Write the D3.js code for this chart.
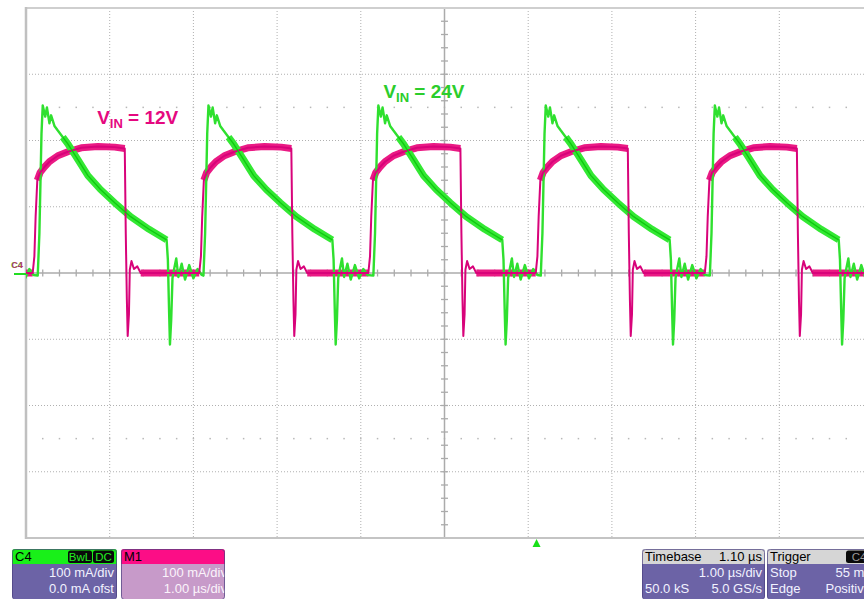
<!DOCTYPE html>
<html>
<head>
<meta charset="utf-8">
<script src="https://cdn.jsdelivr.net/npm/d3@7"></script>
<style>
  html, body { margin: 0; padding: 0; background: #fff; }
  svg { display: block; font-family: "Liberation Sans", Arial, sans-serif; }
</style>
</head>
<body>
<svg id="scope" width="864" height="599"></svg>
<script>
// ---- Graticule: 10 time divisions (1.00 µs/div), 8 current divisions (100 mA/div)
const timeDomain = [0, 10];        // µs
const currentDomain = [-400, 400]; // mA

// ---- C4 (VIN = 24V): one switching cycle, [µs after turn-on, mA]
const c4Shape = [
  [0.00, -4], [0.02, 60], [0.035, 150], [0.045, 210], [0.06, 253], [0.09, 236],
  [0.11, 250], [0.14, 226], [0.16, 238], [0.20, 222], [0.24, 215], [0.30, 205],
  [0.36, 195], [0.48, 171], [0.60, 147], [0.75, 126], [0.92, 106], [1.11, 85],
  [1.33, 66], [1.54, 50], [1.555, 20], [1.57, -60], [1.58, -108], [1.595, -70],
  [1.61, -8], [1.63, 6], [1.655, 22], [1.68, -6], [1.72, 14], [1.76, -10],
  [1.81, 12], [1.86, -8], [1.91, 6], [1.96, -3]
];
const c4Starts = [-1.87, 0.14, 2.12, 4.15, 6.15, 8.17]; // µs
const c4BandRanges = [[0.26, 1.545]];

// ---- M1 (VIN = 12V): one switching cycle, [µs after turn-on, mA]
const m1Shape = [
  [0.00, 0], [0.02, 25], [0.035, 85], [0.055, 140], [0.09, 152], [0.14, 160],
  [0.20, 168], [0.30, 177], [0.42, 183], [0.58, 189], [0.78, 191], [0.98, 190],
  [1.10, 188], [1.112, 60], [1.125, -40], [1.135, -95], [1.15, -62], [1.16, 5],
  [1.18, 18], [1.21, 6], [1.25, 10], [1.29, 0], [1.96, 0]
];
const m1Starts = [-1.93, 0.08, 2.07, 4.09, 6.09, 8.11]; // µs
const m1BandRanges = [[0.055, 1.102], [1.29, 1.96], [0, 0]];

// ---- Readout panels
const c4Readout = ["100 mA/div", "0.0 mA ofst"];
const m1Readout = ["100 mA/div", "1.00 µs/div"];
const timebaseReadout = { delay: "1.10 µs", perDiv: "1.00 µs/div", samples: "50.0 kS", rate: "5.0 GS/s" };
const triggerReadout = { source: "C4", mode: "Stop", level: "55 mA", type: "Edge", slope: "Positive" };
const triggerDelay = 1.10; // µs right of centre

const svg = d3.select("#scope");
const x = d3.scaleLinear().domain(timeDomain).range([26, 863]);
const y = d3.scaleLinear().domain(currentDomain).range([538, 8]);

// ---- Graticule
const grid = svg.append("g");
const gridColor = "#b0b0b0";
grid.selectAll("line.v").data(d3.range(1, 10).filter(d => d !== 5)).join("line")
  .attr("x1", d => x(d)).attr("x2", d => x(d)).attr("y1", y(400)).attr("y2", y(-400))
  .attr("stroke", gridColor).attr("stroke-width", 1).attr("stroke-dasharray", "1,2");
grid.selectAll("line.h").data(d3.range(-300, 400, 100).filter(d => d !== 0)).join("line")
  .attr("x1", x(0)).attr("x2", 864).attr("y1", d => y(d)).attr("y2", d => y(d))
  .attr("stroke", gridColor).attr("stroke-width", 1).attr("stroke-dasharray", "1,2");

// dot rows at ±2.5 divisions
[250, -250].forEach(v => {
  grid.selectAll(null).data(d3.range(0.2, 10, 0.2)).join("rect")
    .attr("x", d => x(d) - 0.75).attr("y", y(v) - 0.75).attr("width", 1.5).attr("height", 1.5)
    .attr("fill", "#b8b8b8");
});

// centre axes with minor ticks
grid.append("line").attr("x1", x(0)).attr("x2", 864).attr("y1", y(0)).attr("y2", y(0))
  .attr("stroke", "#ababab").attr("stroke-width", 1.5);
grid.append("line").attr("x1", x(5)).attr("x2", x(5)).attr("y1", y(400)).attr("y2", y(-400))
  .attr("stroke", "#ababab").attr("stroke-width", 1.5);
grid.selectAll(null).data(d3.range(0.2, 10, 0.2)).join("line")
  .attr("x1", d => x(d)).attr("x2", d => x(d)).attr("y1", y(0) - 3.5).attr("y2", y(0) + 3.5)
  .attr("stroke", "#ababab").attr("stroke-width", 1.3);
grid.selectAll(null).data(d3.range(-380, 400, 20)).join("line")
  .attr("x1", x(5) - 3.5).attr("x2", x(5) + 3.5).attr("y1", d => y(d)).attr("y2", d => y(d))
  .attr("stroke", "#ababab").attr("stroke-width", 1.3);

// frame
grid.append("line").attr("x1", x(0)).attr("x2", 864).attr("y1", y(400)).attr("y2", y(400))
  .attr("stroke", "#cfcfcf").attr("stroke-width", 2);
grid.append("line").attr("x1", x(0)).attr("x2", 864).attr("y1", y(-400)).attr("y2", y(-400))
  .attr("stroke", "#c4c4c4").attr("stroke-width", 2);
grid.append("line").attr("x1", x(0)).attr("x2", x(0)).attr("y1", y(400) - 1).attr("y2", y(-400) + 1)
  .attr("stroke", "#c0c0c0").attr("stroke-width", 2.5);

// ---- Traces
svg.append("clipPath").attr("id", "plotClip").append("rect")
  .attr("x", x(0)).attr("y", y(400)).attr("width", 864 - x(0)).attr("height", y(-400) - y(400));

function buildTrace(shape, starts, bands) {
  const pts = [];
  starts.forEach(s => shape.forEach(([dt, v]) => {
    pts.push({ t: s + dt, v, band: bands.some(([a, b]) => dt >= a && dt <= b) });
  }));
  return pts;
}
const c4 = buildTrace(c4Shape, c4Starts, c4BandRanges);
const m1 = buildTrace(m1Shape, m1Starts, m1BandRanges);

const line = d3.line().x(d => x(d.t)).y(d => y(d.v));
const bandLine = d3.line().defined(d => d.band).x(d => x(d.t)).y(d => y(d.v));

const traces = svg.append("g").attr("clip-path", "url(#plotClip)");
traces.append("path").datum(m1).attr("d", bandLine).attr("fill", "none")
  .attr("stroke", "#ea1a84").attr("stroke-width", 7).attr("stroke-linejoin", "round");
traces.append("path").datum(c4).attr("d", line).attr("fill", "none")
  .attr("stroke", "#2fe02f").attr("stroke-width", 2.4).attr("stroke-linejoin", "round");
traces.append("path").datum(c4).attr("d", bandLine).attr("fill", "none")
  .attr("stroke", "#33e833").attr("stroke-width", 7).attr("stroke-linejoin", "round");
traces.append("path").datum(m1).attr("d", line).attr("fill", "none")
  .attr("stroke", "#d8037a").attr("stroke-width", 2).attr("stroke-linejoin", "round");
traces.append("path").datum(c4).attr("d", bandLine).attr("fill", "none")
  .attr("stroke", "#10c810").attr("stroke-width", 1.4).attr("stroke-linejoin", "round");

// ---- Ground marker for C4 / M1
svg.append("line").attr("x1", 14).attr("x2", x(0)).attr("y1", y(0) + 1).attr("y2", y(0) + 1)
  .attr("stroke", "#22dd22").attr("stroke-width", 2);
svg.append("text").attr("x", 11).attr("y", 268).attr("font-size", 9).attr("font-weight", "bold")
  .attr("fill", "#22dd22").text("C4");
svg.append("text").attr("x", 11.5).attr("y", 267.5).attr("font-size", 9).attr("font-weight", "bold")
  .attr("fill", "#e0107c").attr("opacity", 0.8).text("C4");

// ---- Annotations
function vinLabel(tx, mv, rest, color) {
  const t = svg.append("text").attr("x", x(tx)).attr("y", y(mv))
    .attr("font-size", 19).attr("font-weight", "bold").attr("fill", color);
  t.append("tspan").text("V");
  t.append("tspan").attr("font-size", 13).attr("dy", 4).text("IN");
  t.append("tspan").attr("dy", -4).text(rest);
}
vinLabel(0.85, 225, " = 12V", "#e5087f");
vinLabel(4.27, 264, " = 24V", "#2ccd2c");

// ---- Trigger position marker
const trigX = x(5 + triggerDelay);
svg.append("path")
  .attr("d", `M${trigX - 4},547 L${trigX + 4},547 L${trigX},539 Z`)
  .attr("fill", "#18e018");

// ---- Readout panels
const panelTop = 549, headH = 15, panelBottom = 599;
const bodyText = "#f2f2ff";
function panel(id, px, pw, headFill, bodyFill) {
  svg.append("clipPath").attr("id", id).append("rect")
    .attr("x", px).attr("y", panelTop).attr("width", pw).attr("height", panelBottom - panelTop).attr("rx", 3);
  const g = svg.append("g").attr("clip-path", `url(#${id})`);
  g.append("rect").attr("x", px).attr("y", panelTop).attr("width", pw).attr("height", panelBottom - panelTop)
    .attr("fill", bodyFill);
  g.append("rect").attr("x", px).attr("y", panelTop).attr("width", pw).attr("height", headH)
    .attr("fill", headFill);
  svg.append("rect").attr("x", px + 0.5).attr("y", panelTop + 0.5).attr("width", pw - 1)
    .attr("height", panelBottom - panelTop).attr("rx", 3)
    .attr("fill", "none").attr("stroke", "#4b4280").attr("stroke-width", 1).attr("opacity", 0.7);
  return g;
}
function txt(g, tx, ty, s, anchor, fill, size) {
  g.append("text").attr("x", tx).attr("y", ty).attr("font-size", size || 13)
    .attr("text-anchor", anchor).attr("fill", fill).text(s);
}
function badge(g, bx, bw, s, fill) {
  g.append("rect").attr("x", bx).attr("y", panelTop + 1.5).attr("width", bw).attr("height", 12.5)
    .attr("rx", 2.5).attr("fill", "#0a0a0a");
  txt(g, bx + bw / 2, panelTop + 11.5, s, "middle", fill, 11.5);
}

// C4 panel
const pC4 = panel("clipC4", 12, 105, "#19f019", "#6c63a6");
txt(pC4, 15, 561, "C4", "start", "#000");
badge(pC4, 68, 24, "BwL", "#22ee22");
badge(pC4, 93, 21, "DC", "#22ee22");
txt(pC4, 114, 577, c4Readout[0], "end", bodyText);
txt(pC4, 114, 593, c4Readout[1], "end", bodyText);

// M1 panel
const pM1 = panel("clipM1", 121, 104, "#fc0d86", "#c79ac9");
txt(pM1, 124, 561, "M1", "start", "#000");
txt(pM1, 227, 577, m1Readout[0], "end", "#fbf4fb");
txt(pM1, 227, 593, m1Readout[1], "end", "#fbf4fb");

// Timebase panel
const pTb = panel("clipTb", 642, 123, "#d6d6d6", "#6c63a6");
txt(pTb, 645, 561, "Timebase", "start", "#000");
txt(pTb, 762, 561, timebaseReadout.delay, "end", "#000");
txt(pTb, 762, 577, timebaseReadout.perDiv, "end", bodyText);
txt(pTb, 645, 593, timebaseReadout.samples, "start", bodyText);
txt(pTb, 762, 593, timebaseReadout.rate, "end", bodyText);

// Trigger panel (runs past the right edge of the display)
const pTr = panel("clipTr", 767, 120, "#d6d6d6", "#6c63a6");
txt(pTr, 770, 561, "Trigger", "start", "#000");
badge(pTr, 846, 26, triggerReadout.source, "#9a9a9a");
txt(pTr, 770, 577, triggerReadout.mode, "start", bodyText);
txt(pTr, 873, 577, triggerReadout.level, "end", bodyText);
txt(pTr, 770, 593, triggerReadout.type, "start", bodyText);
txt(pTr, 871, 593, triggerReadout.slope, "end", bodyText);
</script>
</body>
</html>
